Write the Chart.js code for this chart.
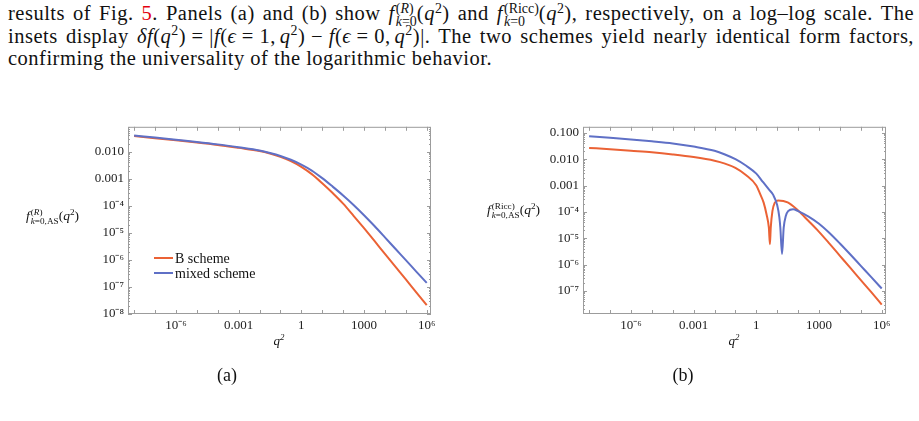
<!DOCTYPE html>
<html>
<head>
<meta charset="utf-8">
<script src="https://cdn.jsdelivr.net/npm/chart.js@4.4.1/dist/chart.umd.min.js"></script>
<style>
  body { margin: 0; background: #fff; font-family: "Liberation Serif", "DejaVu Serif", serif; color: #111; }
  #page { position: relative; width: 919px; height: 421px; overflow: hidden; }
  .cap { position: absolute; left: 8px; width: 906px; font-size: 20.5px; letter-spacing: 0.5px; line-height: 22.5px; text-align: justify; text-align-last: justify; }
  .cap.last { text-align: left; text-align-last: left; }
  .st { display: inline-block; vertical-align: -0.42em; line-height: 0.95; font-size: 0.68em; margin-left: 1px; letter-spacing: 0; }
  .st span { display: block; }
  sup { font-size: 0.68em; line-height: 0; vertical-align: 0.55em; }
  canvas { position: absolute; }
  .ylab { position: absolute; font-size: 13.5px; white-space: nowrap; }
  .xlab { position: absolute; font-size: 13px; font-style: italic; transform: translateX(-50%); }
  .panel { position: absolute; font-size: 18px; transform: translateX(-50%); }
  .leg { position: absolute; font-size: 14px; white-space: nowrap; line-height: 14px; }
  .leg i { display: inline-block; width: 19px; height: 2px; vertical-align: 4px; margin-right: 2px; }
</style>
</head>
<body>
<div id="page">
  <div class="cap" style="top:2px">results of Fig. <span style="color:#e3000f">5</span>. Panels (a) and (b) show <i>f</i><span class="st"><span>(<i>R</i>)</span><span><i>k</i>=0</span></span>(<i>q</i><sup>2</sup>) and <i>f</i><span class="st"><span>(Ricc)</span><span><i>k</i>=0</span></span>(<i>q</i><sup>2</sup>), respectively, on a log–log scale. The</div>
  <div class="cap" style="top:25px">insets display <i>δf</i>(<i>q</i><sup>2</sup>)&#8197;=&#8197;|<i>f</i>(<i>ϵ</i>&#8197;=&#8197;1,&#8198;<i>q</i><sup>2</sup>)&#8197;−&#8197;<i>f</i>(<i>ϵ</i>&#8197;=&#8197;0,&#8198;<i>q</i><sup>2</sup>)|. The two schemes yield nearly identical form factors,</div>
  <div class="cap last" style="top:47px">confirming the universality of the logarithmic behavior.</div>

  <canvas id="chartA" width="370" height="225" style="left:70px;top:115px"></canvas>
  <canvas id="chartB" width="370" height="225" style="left:525px;top:115px"></canvas>

  <div class="ylab" style="left:26px;top:208px"><i>f</i><span class="st"><span>(<i>R</i>)</span><span><i>k</i>=0,AS</span></span>(<i>q</i><sup>2</sup>)</div>
  <div class="ylab" style="left:487px;top:202px"><i>f</i><span class="st"><span>(Ricc)</span><span><i>k</i>=0,AS</span></span>(<i>q</i><sup>2</sup>)</div>

  <div class="leg" style="left:154px;top:252px"><i style="background:#eb6235"></i>B scheme</div>
  <div class="leg" style="left:154px;top:267px"><i style="background:#5f70c6"></i>mixed scheme</div>

  <div class="xlab" style="left:279px;top:333px">q<sup>2</sup></div>
  <div class="xlab" style="left:734px;top:333px">q<sup>2</sup></div>
  <div class="panel" style="left:227px;top:365px">(a)</div>
  <div class="panel" style="left:683px;top:365px">(b)</div>
</div>

<script>
// axis ranges and tick labels
const xMin = 5.1e-9, xMax = 1.6e6;
const xTickVals = [1e-6, 1e-3, 1, 1e3, 1e6];
const xTickLabels = ['10⁻⁶', '0.001', '1', '1000', '10⁶'];

const yMinA = 1e-8, yMaxA = 0.083;
const yTickValsA = [1e-2, 1e-3, 1e-4, 1e-5, 1e-6, 1e-7, 1e-8];
const yTickLabelsA = ['0.010', '0.001', '10⁻⁴', '10⁻⁵', '10⁻⁶', '10⁻⁷', '10⁻⁸'];

const yMinB = 1.32e-8, yMaxB = 0.17;
const yTickValsB = [1e-1, 1e-2, 1e-3, 1e-4, 1e-5, 1e-6, 1e-7];
const yTickLabelsB = ['0.100', '0.010', '0.001', '10⁻⁴', '10⁻⁵', '10⁻⁶', '10⁻⁷'];

// panel (a): f^(R)
const q2A = [1e-8, 1e-7, 1e-6, 1e-5, 1e-4, 1e-3, 1e-2, 0.0316, 0.1, 0.316, 1, 3.16, 10, 31.6, 100, 316, 1000, 3160, 1e4, 3.16e4, 1e5, 3.16e5, 1e6];
const bSchemeA = [0.038, 0.0316, 0.0263, 0.0219, 0.0178, 0.0138, 0.0105, 0.0085, 0.00646, 0.00447, 0.00275, 0.00148, 6.8e-4, 2.95e-4, 1.2e-4, 4.27e-5, 1.48e-5, 5.0e-6, 1.66e-6, 5.6e-7, 1.9e-7, 6.3e-8, 2.14e-8];
const mixedA = [0.0398, 0.0331, 0.0275, 0.0229, 0.0186, 0.0145, 0.0110, 0.00891, 0.00692, 0.00501, 0.00331, 0.0020, 0.00105, 5.1e-4, 2.4e-4, 1.07e-4, 4.47e-5, 1.78e-5, 6.8e-6, 2.57e-6, 9.8e-7, 3.7e-7, 1.41e-7];

// panel (b): f^(Ricc), each with its own zero-crossing dip
const q2BschemeB = [1e-8, 1e-7, 1e-6, 1e-5, 1e-4, 1e-3, 1e-2, 0.0316, 0.1, 0.316, 1, 1.48, 2.24, 3.09, 3.98, 4.47, 4.9, 5.89, 7.59, 10.96, 31.6, 100, 316, 1000, 3160, 1e4, 3.16e4, 1e5, 3.16e5, 1e6];
const bSchemeB = [0.0269, 0.024, 0.0209, 0.0182, 0.0151, 0.012, 0.0087, 0.00676, 0.00468, 0.00251, 0.001, 5.0e-4, 2.24e-4, 7.9e-5, 2.5e-5, 5.9e-6, 2.5e-5, 1.07e-4, 2.19e-4, 2.69e-4, 2.29e-4, 1.12e-4, 4.47e-5, 1.74e-5, 6.2e-6, 2.14e-6, 7.4e-7, 2.57e-7, 8.9e-8, 3.0e-8];
const q2MixedB = [1e-8, 1e-7, 1e-6, 1e-5, 1e-4, 1e-3, 1e-2, 0.0316, 0.1, 0.316, 1, 2.0, 3.98, 6.31, 10, 12.6, 14.1, 17.0, 20.4, 25.7, 33.1, 57.5, 100, 316, 1000, 3160, 1e4, 3.16e4, 1e5, 3.16e5, 1e6];
const mixedB = [0.0741, 0.0646, 0.0562, 0.0479, 0.0398, 0.0302, 0.0209, 0.0151, 0.0100, 0.00575, 0.00282, 0.00141, 7.1e-4, 4.5e-4, 1.78e-4, 6.3e-5, 2.5e-5, 2.5e-6, 2.5e-5, 6.9e-5, 1.07e-4, 1.26e-4, 1.07e-4, 6.6e-5, 3.55e-5, 1.58e-5, 6.3e-6, 2.4e-6, 8.9e-7, 3.3e-7, 1.23e-7];

const orange = '#eb6235';
const blue = '#5f70c6';
const frameGray = '#9c9c9c';

// frame box with inward ticks on all four sides (Mathematica style)
const frameTicks = {
  id: 'frameTicks',
  afterDraw(chart) {
    const { ctx, chartArea: a, scales: { x, y } } = chart;
    ctx.save();
    ctx.strokeStyle = frameGray;
    ctx.lineWidth = 1;
    ctx.strokeRect(a.left + 0.5, a.top + 0.5, a.right - a.left - 1, a.bottom - a.top - 1);
    ctx.beginPath();
    for (let e = -9; e <= 7; e++) {
      const v = Math.pow(10, e);
      if (v < x.min || v > x.max) continue;
      const px = Math.round(x.getPixelForValue(v)) + 0.5;
      ctx.moveTo(px, a.bottom); ctx.lineTo(px, a.bottom - 4);
      ctx.moveTo(px, a.top); ctx.lineTo(px, a.top + 4);
    }
    for (let e = -9; e <= 0; e++) {
      for (let m = 1; m <= 9; m++) {
        const v = m * Math.pow(10, e);
        if (v < y.min || v > y.max) continue;
        const py = Math.round(y.getPixelForValue(v)) + 0.5;
        const len = m === 1 ? 4 : 2;
        ctx.moveTo(a.left, py); ctx.lineTo(a.left + len, py);
        ctx.moveTo(a.right, py); ctx.lineTo(a.right - len, py);
      }
    }
    ctx.stroke();
    ctx.restore();
  }
};

function series(xs, ys, color, order) {
  return {
    data: xs.map((q, i) => ({ x: q, y: ys[i] })),
    borderColor: color,
    borderWidth: 2,
    pointRadius: 0,
    fill: false,
    cubicInterpolationMode: 'monotone',
    order: order
  };
}

function makeChart(id, datasets, yMin, yMax, yVals, yLabels) {
  const tickFont = { family: 'Liberation Serif', size: 13 };
  return new Chart(document.getElementById(id), {
    type: 'line',
    data: { datasets: datasets },
    options: {
      responsive: false,
      animation: false,
      layout: { padding: { top: 10, right: 9, left: 0, bottom: 0 } },
      plugins: { legend: { display: false }, tooltip: { enabled: false } },
      scales: {
        x: {
          type: 'logarithmic',
          min: xMin, max: xMax,
          bounds: 'data',
          grid: { display: false, drawTicks: false },
          border: { display: false },
          afterBuildTicks: s => { s.ticks = xTickVals.map(v => ({ value: v })); },
          afterFit: s => { s.height = 26; },
          ticks: {
            autoSkip: false, maxRotation: 0, padding: 4,
            font: tickFont, color: '#222',
            callback: (v, i) => xTickLabels[i]
          }
        },
        y: {
          type: 'logarithmic',
          min: yMin, max: yMax,
          bounds: 'data',
          grid: { display: false, drawTicks: false },
          border: { display: false },
          afterBuildTicks: s => { s.ticks = yVals.map(v => ({ value: v })); },
          afterFit: s => { s.width = 58; },
          ticks: {
            autoSkip: false, padding: 4,
            font: tickFont, color: '#222',
            callback: (v, i) => yLabels[i]
          }
        }
      }
    },
    plugins: [frameTicks]
  });
}

makeChart('chartA', [
  series(q2A, bSchemeA, orange, 2),
  series(q2A, mixedA, blue, 1)
], yMinA, yMaxA, yTickValsA, yTickLabelsA);

makeChart('chartB', [
  series(q2BschemeB, bSchemeB, orange, 2),
  series(q2MixedB, mixedB, blue, 1)
], yMinB, yMaxB, yTickValsB, yTickLabelsB);
</script>
</body>
</html>
